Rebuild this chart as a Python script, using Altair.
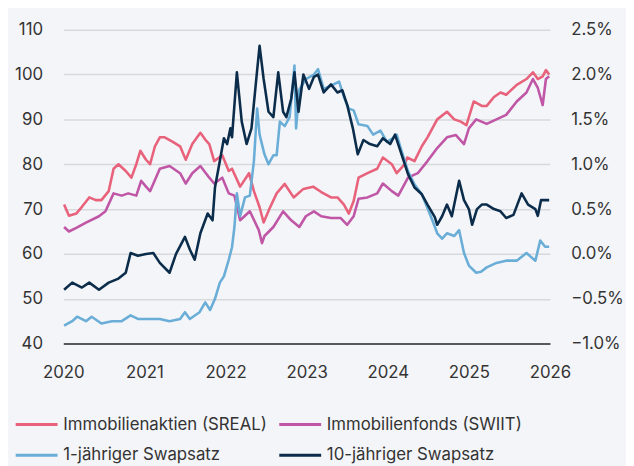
import altair as alt
import pandas as pd

SERIES = ["Immobilienaktien (SREAL)", "Immobilienfonds (SWIIT)",
          "1-jähriger Swapsatz", "10-jähriger Swapsatz"]
COLORS = ["#e8627c", "#c056a6", "#6aaed8", "#0b2d4b"]

# Immobilienaktien (SREAL), index, left axis
sreal_t = [2020.01, 2020.07, 2020.16, 2020.23, 2020.32, 2020.40, 2020.47, 2020.56, 2020.62, 2020.68,
           2020.77, 2020.84, 2020.90, 2020.95, 2021.02, 2021.07, 2021.13, 2021.19, 2021.25, 2021.35,
           2021.44, 2021.51, 2021.59, 2021.69, 2021.75, 2021.80, 2021.86, 2021.96, 2022.04, 2022.08,
           2022.18, 2022.29, 2022.35, 2022.42, 2022.47, 2022.54, 2022.63, 2022.73, 2022.84, 2022.96,
           2023.08, 2023.18, 2023.30, 2023.38, 2023.46, 2023.52, 2023.58, 2023.64, 2023.75, 2023.87,
           2023.94, 2024.05, 2024.11, 2024.21, 2024.24, 2024.33, 2024.42, 2024.49, 2024.61, 2024.73,
           2024.82, 2024.90, 2024.97, 2025.06, 2025.16, 2025.22, 2025.31, 2025.39, 2025.46, 2025.59,
           2025.71, 2025.79, 2025.85, 2025.91, 2025.95, 2025.99]
sreal_v = [71, 68.5, 69, 70.5, 72.6, 72, 72, 74, 79, 80,
           78.5, 77, 80, 83, 81, 80, 84, 86, 86, 85,
           84, 81, 84.5, 87, 85.5, 84.5, 80.7, 82, 78.5, 79,
           75, 78, 74, 70.4, 67, 70, 73.5, 75.6, 72.6, 74.5,
           75, 73.8, 72.6, 72.6, 71, 69, 71.8, 77, 78, 79,
           81.5, 80, 78, 80, 81.5, 80.7, 84, 86, 90, 91.7,
           90, 89.5, 88.7, 94, 93, 93, 95, 96, 95.5, 97.7,
           99, 100.5, 99, 99.6, 101, 100]

# Immobilienfonds (SWIIT), index, left axis
swiit_t = [2020.01, 2020.07, 2020.16, 2020.28, 2020.44, 2020.52, 2020.62, 2020.72, 2020.80, 2020.90,
           2020.96, 2021.02, 2021.07, 2021.19, 2021.31, 2021.44, 2021.51, 2021.59, 2021.69, 2021.80,
           2021.86, 2021.96, 2022.04, 2022.11, 2022.18, 2022.30, 2022.41, 2022.45, 2022.48, 2022.59,
           2022.71, 2022.81, 2022.91, 2022.99, 2023.09, 2023.18, 2023.30, 2023.42, 2023.50, 2023.58,
           2023.64, 2023.75, 2023.87, 2023.94, 2024.05, 2024.13, 2024.25, 2024.37, 2024.49, 2024.61,
           2024.73, 2024.84, 2024.94, 2025.00, 2025.09, 2025.22, 2025.34, 2025.46, 2025.59, 2025.71,
           2025.79, 2025.85, 2025.91, 2025.95, 2025.99]
swiit_v = [66, 65, 65.8, 67, 68.4, 69.5, 73.5, 73, 73.5, 73,
           76.3, 75, 74, 79, 79.6, 78, 75.7, 78, 79.6, 77,
           75.7, 77, 73.5, 73, 67.5, 69.5, 65.3, 62.4, 64, 66,
           69.5, 67.5, 66, 68.4, 69.5, 68.4, 68, 68, 66.5, 68.4,
           72.3, 72.6, 73.5, 75.7, 74, 73, 77, 78, 80.7, 83.6,
           86, 86.5, 84.5, 88, 90, 89, 90, 91, 94, 96,
           99, 97, 93.2, 99, 99.6]

# 1-jähriger Swapsatz, percent, right axis
y1_t = [2020.01, 2020.11, 2020.17, 2020.28, 2020.35, 2020.47, 2020.60, 2020.72, 2020.83, 2020.92,
        2021.02, 2021.19, 2021.31, 2021.44, 2021.50, 2021.56, 2021.68, 2021.75, 2021.81, 2021.87,
        2021.93, 2021.98, 2022.04, 2022.08, 2022.11, 2022.14, 2022.18, 2022.24, 2022.30, 2022.35,
        2022.39, 2022.42, 2022.48, 2022.53, 2022.59, 2022.63, 2022.67, 2022.73, 2022.79, 2022.85,
        2022.87, 2022.91, 2022.99, 2023.09, 2023.14, 2023.21, 2023.30, 2023.40, 2023.46, 2023.52,
        2023.58, 2023.64, 2023.75, 2023.82, 2023.91, 2023.99, 2024.06, 2024.11, 2024.17, 2024.25,
        2024.33, 2024.42, 2024.49, 2024.55, 2024.61, 2024.67, 2024.73, 2024.82, 2024.88, 2024.94,
        2025.00, 2025.09, 2025.15, 2025.22, 2025.34, 2025.46, 2025.59, 2025.71, 2025.82, 2025.88,
        2025.94, 2025.99]
y1_v = [-0.80, -0.75, -0.70, -0.75, -0.70, -0.775, -0.75, -0.75, -0.685, -0.725,
        -0.725, -0.725, -0.75, -0.725, -0.65, -0.725, -0.65, -0.54, -0.625, -0.50,
        -0.32, -0.25, -0.065, 0.075, 0.30, 0.675, 0.42, 0.63, 0.65, 1.035,
        1.62, 1.33, 1.11, 1.0, 1.10, 1.10, 1.475, 1.425, 1.525, 2.10,
        1.40, 1.83, 1.95, 2.0, 2.06, 1.84, 1.875, 1.92, 1.75, 1.62,
        1.60, 1.445, 1.425, 1.33, 1.375, 1.25, 1.29, 1.33, 1.15, 0.92,
        0.775, 0.665, 0.51, 0.375, 0.23, 0.17, 0.23, 0.20, 0.265, 0.01,
        -0.13, -0.21, -0.20, -0.15, -0.10, -0.075, -0.075, 0.01, -0.075, 0.15,
        0.08, 0.08]

# 10-jähriger Swapsatz, percent, right axis
y10_t = [2020.01, 2020.11, 2020.23, 2020.32, 2020.44, 2020.56, 2020.68, 2020.77, 2020.83, 2020.92,
         2021.02, 2021.11, 2021.19, 2021.31, 2021.39, 2021.50, 2021.56, 2021.62, 2021.69, 2021.78,
         2021.84, 2021.87, 2021.93, 2021.98, 2022.02, 2022.06, 2022.08, 2022.14, 2022.20, 2022.26,
         2022.32, 2022.39, 2022.42, 2022.47, 2022.53, 2022.59, 2022.65, 2022.71, 2022.75, 2022.81,
         2022.85, 2022.90, 2022.96, 2023.03, 2023.09, 2023.14, 2023.21, 2023.30, 2023.38, 2023.44,
         2023.50, 2023.57, 2023.63, 2023.70, 2023.78, 2023.87, 2023.94, 2024.03, 2024.09, 2024.17,
         2024.25, 2024.33, 2024.42, 2024.49, 2024.58, 2024.61, 2024.67, 2024.73, 2024.79, 2024.88,
         2024.94, 2025.00, 2025.04, 2025.10, 2025.16, 2025.22, 2025.31, 2025.39, 2025.46, 2025.55,
         2025.65, 2025.73, 2025.82, 2025.85, 2025.89, 2025.99]
y10_v = [-0.40, -0.32, -0.375, -0.32, -0.40, -0.32, -0.275, -0.21, 0.01, -0.02,
         0.0, 0.01, -0.10, -0.21, 0.0, 0.19, 0.05, -0.065, 0.23, 0.45,
         0.375, 0.74, 1.035, 1.29, 1.225, 1.40, 1.30, 2.025, 1.475, 1.225,
         1.40, 2.05, 2.32, 1.95, 1.585, 1.525, 2.025, 1.585, 1.525, 1.73,
         2.025, 1.585, 2.0, 1.84, 1.975, 2.0, 1.80, 1.89, 1.80, 1.825,
         1.66, 1.40, 1.11, 1.27, 1.225, 1.20, 1.29, 1.225, 1.33, 1.11,
         0.89, 0.74, 0.665, 0.55, 0.41, 0.325, 0.42, 0.55, 0.42, 0.815,
         0.60, 0.50, 0.325, 0.50, 0.55, 0.55, 0.50, 0.475, 0.40, 0.435,
         0.675, 0.55, 0.50, 0.425, 0.60, 0.60]

X_TICKS = [2020, 2021, 2022, 2023, 2024, 2025, 2026]
LEFT_TICKS = [40, 50, 60, 70, 80, 90, 100, 110]
RIGHT_TICKS = [-1.0, -0.5, 0.0, 0.5, 1.0, 1.5, 2.0, 2.5]

FONT = "Inter"
TXT = "#333333"


def frame(name, t, v):
    return pd.DataFrame({"Jahr": t, "Wert": v, "Serie": name})


x = alt.X("Jahr:Q", scale=alt.Scale(domain=[2020, 2026], nice=False, zero=False),
          axis=alt.Axis(values=X_TICKS, format="d", title=None, grid=False, ticks=False,
                        domain=True, domainColor="#2b2b2b", domainWidth=1.5,
                        labelFlush=False, labelPadding=21, labelFontSize=17,
                        labelColor=TXT, labelFont=FONT))

color = alt.Color("Serie:N", scale=alt.Scale(domain=SERIES, range=COLORS),
                  legend=alt.Legend(title=None, orient="none", legendX=-50, legendY=377,
                                    columns=2, symbolType="stroke", symbolSize=1800,
                                    symbolStrokeWidth=3, labelFontSize=17, labelFont=FONT,
                                    labelColor=TXT, labelLimit=0, columnPadding=5,
                                    rowPadding=-5, labelOffset=4, direction="horizontal"))

y_left = alt.Y("Wert:Q", scale=alt.Scale(domain=[40, 110], nice=False, zero=False),
               axis=alt.Axis(values=LEFT_TICKS, title=None, ticks=False, domain=False,
                             grid=True, gridColor="#d8d9dc", gridWidth=1.5,
                             labelPadding=21, labelFontSize=17, labelColor=TXT, labelFont=FONT))

y_right = alt.Y("Wert:Q", scale=alt.Scale(domain=[-1.0, 2.5], nice=False, zero=False),
                axis=alt.Axis(values=RIGHT_TICKS, title=None, ticks=False, domain=False,
                              grid=False, orient="right",
                              labelExpr="format(datum.value, '.1f') + '%'",
                              labelPadding=21, labelFontSize=17, labelColor=TXT,
                              labelFont=FONT, labelAlign="left"))


def line(df, y):
    return alt.Chart(df).mark_line(strokeWidth=2.6, strokeJoin="round").encode(
        x=x, y=y, color=color, detail="Serie:N")


left = alt.layer(line(frame(SERIES[1], swiit_t, swiit_v), y_left),
                 line(frame(SERIES[0], sreal_t, sreal_v), y_left))
right = alt.layer(line(frame(SERIES[2], y1_t, y1_v), y_right),
                  line(frame(SERIES[3], y10_t, y10_v), y_right))

chart = alt.layer(left, right).resolve_scale(y="independent").properties(
    width=493, height=318,
    autosize=alt.AutoSizeParams(type="none"),
    padding={"left": 56, "top": 19, "right": 77, "bottom": 121},
    background="#f4f5f8",
).configure_view(stroke=None)

chart.save("out.html", embed_options={"renderer": "svg", "actions": False})
